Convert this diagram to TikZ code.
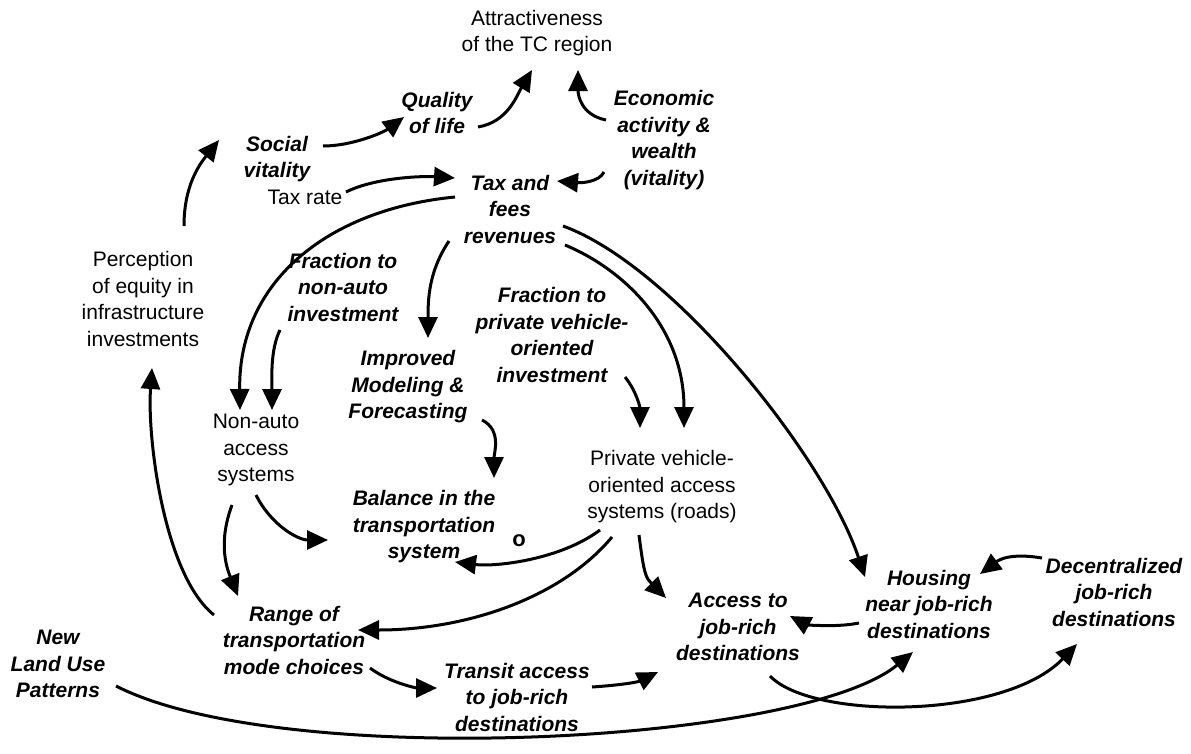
\documentclass[tikz,border=0pt]{standalone}
\usepackage{fontspec}
\setmainfont{Liberation Sans}
\usetikzlibrary{arrows.meta}
\begin{document}
\begin{tikzpicture}[x=1pt,y=-1pt,
  lbl/.style={align=center, inner sep=0pt, font=\fontsize{21}{26.5}\selectfont},
  bi/.style={align=center, inner sep=0pt, font=\fontsize{21}{26.5}\selectfont\bfseries\itshape},
  link/.style={line width=3pt, -{Triangle[length=21pt,width=19pt]}}]
\useasboundingbox (0,0) rectangle (1191,753);
\node[lbl] (attr) at (537,33) {Attractiveness\\of the TC region};
\node[bi] (qol) at (437,113) {Quality\\of life};
\node[bi] (social) at (277,159) {Social\\vitality};
\node[bi] (econ) at (664,140) {Economic\\activity \&\\wealth\\(vitality)};
\node[lbl] (taxrate) at (305,197) {Tax rate};
\node[bi] (tax) at (510,209) {Tax and\\fees\\revenues};
\node[lbl] (perc) at (143,299) {Perception\\of equity in\\infrastructure\\investments};
\node[bi] (fnon) at (343,287) {Fraction to\\non-auto\\investment};
\node[bi] (fpriv) at (552,335) {Fraction to\\private vehicle-\\oriented\\investment};
\node[bi] (model) at (408,387) {Improved\\Modeling \&\\Forecasting};
\node[lbl] (nonauto) at (256,450) {Non-auto\\access\\systems};
\node[lbl] (priv) at (662,487) {Private vehicle-\\oriented access\\systems (roads)};
\node[bi] (bal) at (424,527) {Balance in the\\transportation\\system};
\node[bi] (range) at (294,640) {Range of\\transportation\\mode choices};
\node[bi] (newland) at (58,664) {New\\Land Use\\Patterns};
\node[bi] (transit) at (517,697) {Transit access\\to job-rich\\destinations};
\node[bi] (access) at (738,627) {Access to\\job-rich\\destinations};
\node[bi] (housing) at (929,604) {Housing\\near job-rich\\destinations};
\node[bi] (decent) at (1114,592) {Decentralized\\job-rich\\destinations};
\node[font=\fontsize{22}{26.5}\selectfont\bfseries, inner sep=0pt] (olbl) at (519,541) {o};

\draw[link] ([shift={(41,14)}]qol.center) .. controls +(30,-5) and +(-15,25) .. ([shift={(-5,37)}]attr.center);
\draw[link] ([shift={(-58,-20)}]econ.center) .. controls +(-25,-5) and +(0,25) .. ([shift={(41,37)}]attr.center);
\draw[link] ([shift={(46,-13)}]social.center) .. controls +(30,0) and +(-20,15) .. ([shift={(-33,4)}]qol.center);
\draw[link] ([shift={(41,-73)}]perc.center) .. controls +(0,-40) and +(-20,25) .. ([shift={(-58,-19)}]social.center);
\draw[link] ([shift={(41,-5)}]taxrate.center) .. controls +(30,-15) and +(-30,-2) .. ([shift={(-55,-31)}]tax.center);
\draw[link] ([shift={(-60,32)}]econ.center) .. controls +(-5,10) and +(25,2) .. ([shift={(47,-28)}]tax.center);
\draw[link] ([shift={(-55,-12)}]tax.center) .. controls +(-125,12) and +(-2,-130) .. ([shift={(-16,-40)}]nonauto.center);
\draw[link] ([shift={(-63,43)}]fnon.center) .. controls +(-10,20) and +(0,-30) .. ([shift={(16,-40)}]nonauto.center);
\draw[link] ([shift={(-61,32)}]tax.center) .. controls +(-20,30) and +(0,-40) .. ([shift={(20,-49)}]model.center);
\draw[link] ([shift={(55,36)}]tax.center) .. controls +(60,25) and +(0,-100) .. ([shift={(22,-59)}]priv.center);
\draw[link] ([shift={(53,17)}]tax.center) .. controls +(110,40) and +(-40,-120) .. ([shift={(-64,-27)}]housing.center);
\draw[link] ([shift={(73,42)}]fpriv.center) .. controls +(12,15) and +(0,-20) .. ([shift={(-22,-59)}]priv.center);
\draw[link] ([shift={(74,33)}]model.center) .. controls +(20,10) and +(0,-25) .. ([shift={(70,-49)}]bal.center);
\draw[link] ([shift={(0,45)}]nonauto.center) .. controls +(15,30) and +(-30,0) .. ([shift={(-96,13)}]bal.center);
\draw[link] ([shift={(-62,43)}]priv.center) .. controls +(-40,30) and +(40,5) .. ([shift={(31,35)}]bal.center);
\draw[link] ([shift={(-24,55)}]nonauto.center) .. controls +(-15,40) and +(-10,-25) .. ([shift={(-56,-44)}]range.center);
\draw[link] ([shift={(-80,-25)}]range.center) .. controls +(-50,-40) and +(-5,70) .. ([shift={(9,69)}]perc.center);
\draw[link] ([shift={(-50,50)}]priv.center) .. controls +(-50,60) and +(110,0) .. ([shift={(64,-10)}]range.center);
\draw[link] ([shift={(-23,48)}]priv.center) .. controls +(5,40) and +(-20,-20) .. ([shift={(-72,-29)}]access.center);
\draw[link] ([shift={(-70,19)}]housing.center) .. controls +(-25,5) and +(15,8) .. ([shift={(52,-11)}]access.center);
\draw[link] ([shift={(-72,-34)}]decent.center) .. controls +(-30,-5) and +(20,-15) .. ([shift={(51,-30)}]housing.center);
\draw[link] ([shift={(76,28)}]range.center) .. controls +(20,15) and +(-20,0) .. ([shift={(-80,-9)}]transit.center);
\draw[link] ([shift={(75,-10)}]transit.center) .. controls +(30,-2) and +(-20,10) .. ([shift={(-80,45)}]access.center);
\draw[link] ([shift={(58,22)}]newland.center) .. controls +(164,84) and +(-113,93) .. ([shift={(-16,48)}]housing.center);
\draw[link] ([shift={(32,49)}]access.center) .. controls +(42,44) and +(-73,76) .. ([shift={(-37,52)}]decent.center);
\end{tikzpicture}
\end{document}
